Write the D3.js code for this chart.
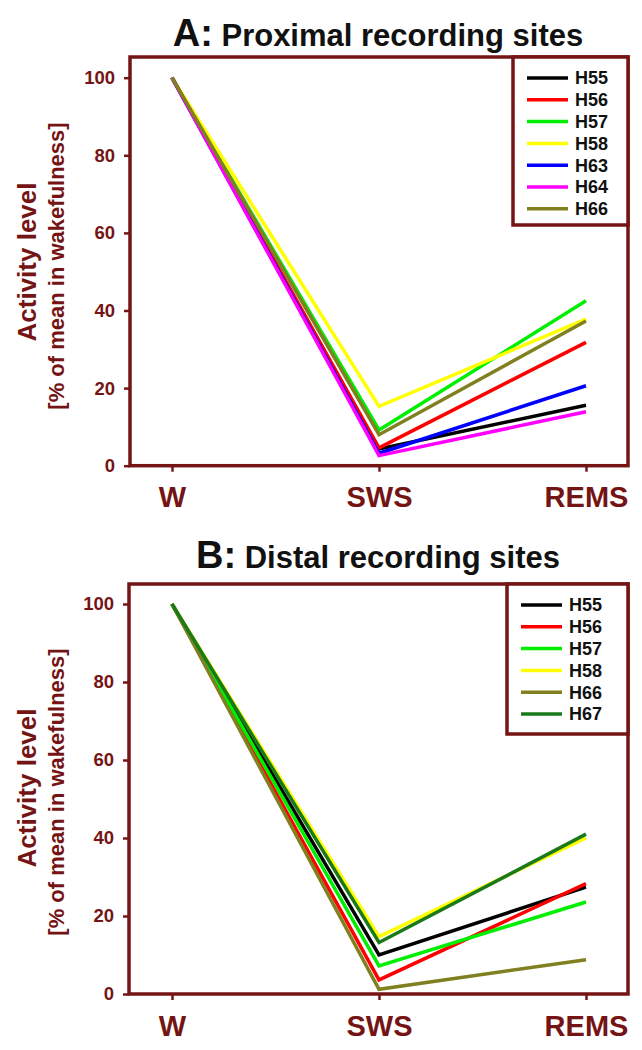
<!DOCTYPE html>
<html>
<head>
<meta charset="utf-8">
<script src="https://cdn.jsdelivr.net/npm/d3@7"></script>
<style>
  body { margin: 0; background: #fff; }
  svg { display: block; }
  text { font-family: "Liberation Sans", Arial, sans-serif; }
</style>
</head>
<body>
<svg id="main" width="642" height="1050"></svg>
<script>
// data
const categories = ["W", "SWS", "REMS"];
const yTicks = [0, 20, 40, 60, 80, 100];

const proximalNames = ["H55", "H56", "H57", "H58", "H63", "H64", "H66"];
const proximalColors = ["#000000", "#ff0000", "#00ee00", "#ffff00", "#0000ff", "#ff00ff", "#808020"];
const proximalValues = [
    [100, 4.3, 15.6],
    [100, 4.6, 31.8],
    [100, 9.2, 42.5],
    [100, 15.3, 37.8],
    [100, 3.2, 20.6],
    [100, 2.6, 13.9],
    [100, 8.0, 37.3]
];

const distalNames = ["H55", "H56", "H57", "H58", "H66", "H67"];
const distalColors = ["#000000", "#ff0000", "#00ee00", "#ffff00", "#808020", "#1a7a1a"];
const distalValues = [
    [100, 10.0, 27.4],
    [100, 3.6, 28.3],
    [100, 7.2, 23.6],
    [100, 14.7, 40.0],
    [100, 1.2, 8.8],
    [100, 13.2, 41.0]
];

const maroon = "#741414";
const svg = d3.select("#main");

function panel(opt) {
    const g = svg.append("g");

    const x = d3.scalePoint().domain(categories).range([opt.x0, opt.x1]);
    const y = d3.scaleLinear().domain([0, 100]).range([opt.yBottom, opt.yTop]);

    // title
    const t = g.append("text")
        .attr("x", 378)
        .attr("y", opt.titleY)
        .attr("text-anchor", "middle")
        .attr("font-weight", "bold")
        .attr("fill", "#111");
    t.append("tspan").attr("font-size", 38).text(opt.letter);
    t.append("tspan").attr("font-size", 31).text(opt.title);

    // frame
    g.append("rect")
        .attr("x", opt.left)
        .attr("y", opt.top)
        .attr("width", opt.right - opt.left)
        .attr("height", y(0) - opt.top)
        .attr("fill", "none")
        .attr("stroke", maroon)
        .attr("stroke-width", 3.5);

    // y axis
    const ya = g.append("g")
        .attr("transform", `translate(${opt.left},0)`)
        .call(d3.axisLeft(y).tickValues(yTicks).tickSize(6).tickPadding(9));
    ya.select(".domain").remove();
    ya.selectAll(".tick line").attr("stroke", maroon).attr("stroke-width", 2.5);
    ya.selectAll(".tick text")
        .attr("fill", maroon)
        .attr("font-size", 18.5)
        .attr("font-weight", "bold")
        .attr("font-family", "Liberation Sans, Arial, sans-serif");

    // x axis
    const xa = g.append("g")
        .attr("transform", `translate(0,${y(0)})`)
        .call(d3.axisBottom(x).tickSize(6).tickPadding(15));
    xa.select(".domain").remove();
    xa.selectAll(".tick line").attr("stroke", maroon).attr("stroke-width", 2.5);
    xa.selectAll(".tick text")
        .attr("fill", maroon)
        .attr("font-size", 29)
        .attr("font-weight", "bold")
        .attr("font-family", "Liberation Sans, Arial, sans-serif");

    // y axis title
    const midY = opt.titleMid;
    g.append("text")
        .attr("transform", `translate(29,${midY}) rotate(-90)`)
        .attr("text-anchor", "middle")
        .attr("dominant-baseline", "middle")
        .attr("font-size", 26)
        .attr("font-weight", "bold")
        .attr("fill", maroon)
        .text("Activity level");
    g.append("text")
        .attr("transform", `translate(58,${midY + 4}) rotate(-90)`)
        .attr("text-anchor", "middle")
        .attr("dominant-baseline", "middle")
        .attr("font-size", 22)
        .attr("font-weight", "bold")
        .attr("fill", maroon)
        .text("[% of mean in wakefulness]");

    // lines
    const line = d3.line()
        .x((d, i) => x(categories[i]))
        .y(d => y(d));
    g.selectAll("path.series")
        .data(opt.values)
        .join("path")
        .attr("class", "series")
        .attr("d", d => line(d))
        .attr("fill", "none")
        .attr("stroke", (d, i) => opt.colors[i])
        .attr("stroke-width", 3.5)
        .attr("stroke-linejoin", "miter");

    // legend
    const lg = g.append("g");
    const rowH = opt.rowH;
    lg.append("rect")
        .attr("x", opt.legLeft)
        .attr("y", opt.top)
        .attr("width", opt.right - opt.legLeft)
        .attr("height", opt.legBottom - opt.top)
        .attr("fill", "#fff")
        .attr("stroke", maroon)
        .attr("stroke-width", 3.5);
    const rows = lg.selectAll("g.row")
        .data(opt.names)
        .join("g")
        .attr("class", "row")
        .attr("transform", (d, i) => `translate(0,${opt.legFirst + i * rowH})`);
    rows.append("line")
        .attr("x1", opt.legLeft + 14)
        .attr("x2", opt.legLeft + 55)
        .attr("stroke", (d, i) => opt.colors[i])
        .attr("stroke-width", 3.5);
    rows.append("text")
        .attr("x", opt.legLeft + 62)
        .attr("dy", "0.36em")
        .attr("font-size", 18)
        .attr("font-weight", "bold")
        .attr("fill", "#111")
        .text(d => d);
}

panel({
    letter: "A:", title: " Proximal recording sites", titleY: 46,
    left: 130, right: 628, top: 57,
    x0: 172, x1: 586, yTop: 77.7, yBottom: 465.7,
    titleMid: 262,
    legLeft: 513, legBottom: 225, legFirst: 78, rowH: 21.8,
    names: proximalNames, colors: proximalColors, values: proximalValues
});

panel({
    letter: "B:", title: "  Distal recording sites", titleY: 568,
    left: 129, right: 628, top: 584,
    x0: 172, x1: 586, yTop: 604, yBottom: 994,
    titleMid: 788,
    legLeft: 507, legBottom: 734, legFirst: 605, rowH: 21.8,
    names: distalNames, colors: distalColors, values: distalValues
});
</script>
</body>
</html>
